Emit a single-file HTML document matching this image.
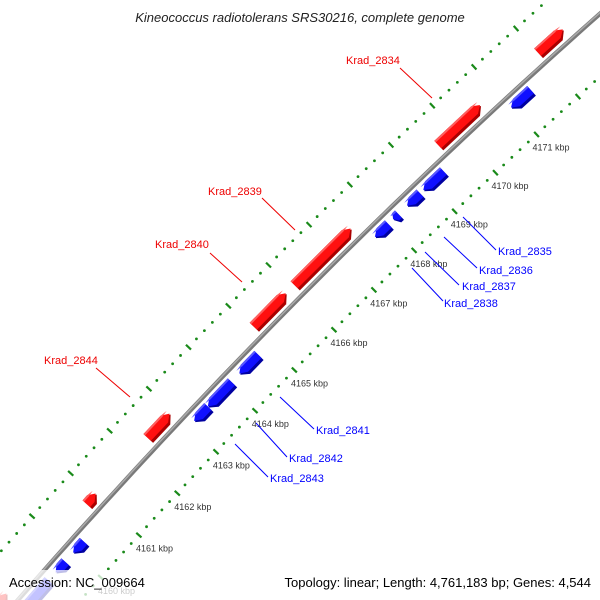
<!DOCTYPE html>
<html><head><meta charset="utf-8"><style>
html,body{margin:0;padding:0;background:#fff;overflow:hidden;width:600px;height:600px}
svg{display:block;font-family:"Liberation Sans","DejaVu Sans",sans-serif}
</style></head><body>
<svg id="chart" width="600" height="600" viewBox="0 0 600 600" xmlns="http://www.w3.org/2000/svg" overflow="hidden">
<rect width="600" height="600" fill="#fff"/>
<g id="ticks"></g>
<g id="axisline"></g>
<g id="genes"></g>
<g font-size="11">
  <g fill="#e00" stroke="none">
    <text x="346" y="64">Krad_2834</text>
    <text x="208" y="195">Krad_2839</text>
    <text x="155" y="248">Krad_2840</text>
    <text x="44" y="364">Krad_2844</text>
  </g>
  <g stroke="#e00" stroke-width="1">
    <line x1="400" y1="68" x2="432" y2="98"/>
    <line x1="262" y1="198" x2="295" y2="230"/>
    <line x1="210" y1="253" x2="242" y2="282"/>
    <line x1="96" y1="368" x2="130" y2="397"/>
  </g>
  <g fill="#00f">
    <text x="498" y="255">Krad_2835</text>
    <text x="479" y="274">Krad_2836</text>
    <text x="462" y="290">Krad_2837</text>
    <text x="444" y="307">Krad_2838</text>
    <text x="316" y="434">Krad_2841</text>
    <text x="289" y="462">Krad_2842</text>
    <text x="270" y="482">Krad_2843</text>
  </g>
  <g stroke="#00f" stroke-width="1">
    <line x1="463" y1="217" x2="496" y2="250"/>
    <line x1="444" y1="237" x2="477" y2="268"/>
    <line x1="425" y1="252" x2="459" y2="285"/>
    <line x1="412" y1="268" x2="443" y2="301"/>
    <line x1="280" y1="397" x2="314" y2="429"/>
    <line x1="256" y1="423" x2="287" y2="457"/>
    <line x1="235" y1="444" x2="268" y2="477"/>
  </g>
</g>
<text x="300" y="22" text-anchor="middle" font-size="13" font-style="italic" fill="#222">Kineococcus radiotolerans SRS30216, complete genome</text>
<rect x="0" y="570" width="600" height="30" fill="#fff" opacity="0.75"/>
<text x="9" y="587" font-size="13" fill="#000">Accession: NC_009664</text>
<text x="591" y="587" text-anchor="end" font-size="13" fill="#000">Topology: linear; Length: 4,761,183 bp; Genes: 4,544</text>
</svg>
<script>
// data (kbp)
const tickKbp = [4160,4161,4162,4163,4164,4165,4166,4167,4168,4169,4170,4171];
const tickLabels = ["4160 kbp","4161 kbp","4162 kbp","4163 kbp","4164 kbp","4165 kbp","4166 kbp","4167 kbp","4168 kbp","4169 kbp","4170 kbp","4171 kbp"];
const dotRange = [4158,4173.4];
const geneStart = [4158.2,4160.79,4162.36,4165.05,4166.07,4169.60,4172.0, 4158.6,4159.54,4160.0,4163.13,4163.48,4164.28,4167.67,4168.12,4168.46,4168.86,4170.99];
const geneEnd   = [4158.7,4161.03,4162.93,4165.86,4167.47,4170.62,4172.6, 4159.35,4159.79,4160.27,4163.48,4164.08,4164.75,4168.0,4168.25,4168.78,4169.35,4171.46];
const geneStrand = [1,1,1,1,1,1,1, -1,-1,-1,-1,-1,-1,-1,-1,-1,-1,-1];

const NS='http://www.w3.org/2000/svg';
function P(k,v){
  const d=k-4160;
  const lx=98+37.85*d+0.15*d*d, ly=591-42.5*d+0.2*d*d;
  let tx=37.85+0.3*d, ty=-42.5+0.4*d; const m=Math.hypot(tx,ty); tx/=m; ty/=m;
  const nx=-ty, ny=tx;
  return [lx+12*tx+(v-54)*nx, ly+12*ty+(v-54)*ny, tx, ty, nx, ny];
}
function mk(tag,attrs,parent){const e=document.createElementNS(NS,tag);for(const a in attrs)e.setAttribute(a,attrs[a]);parent.appendChild(e);return e;}
const pts=a=>a.map(p=>p[0].toFixed(1)+','+p[1].toFixed(1)).join(' ');

const tg=document.getElementById('ticks');
const kMin=dotRange[0], kMax=dotRange[1];
[-45,47].forEach(function(v){
  for(let i=0;i<=Math.round((kMax-kMin)*5);i++){
    const k=kMin+i*0.2;
    const p=P(k,v);
    if(i%5===0){
      const l=mk('line',{x1:p[0]-3.5*p[4],y1:p[1]-3.5*p[5],x2:p[0]+3.5*p[4],y2:p[1]+3.5*p[5],stroke:'#1a8a1a','stroke-width':2.2},tg);
      
      
    }else{
      const c=mk('circle',{cx:p[0],cy:p[1],r:1.4,fill:'#1a8a1a'},tg);
      
      
    }
  }
});
tickKbp.forEach(function(k,i){
  const p=P(k,54); const q=[p[0]-12*p[2],p[1]-12*p[3]];
  const t=mk('text',{x:q[0],y:q[1]+3,'font-size':9,fill:'#333'},tg);
  t.textContent=tickLabels[i];
  
  
});

const ag=document.getElementById('axisline');
const ap=[];for(let k=kMin-1;k<=kMax+1;k+=0.25)ap.push(P(k,0));
mk('polyline',{points:pts(ap),fill:'none',stroke:'#7a7a7a','stroke-width':4.5},ag);
mk('polyline',{points:pts(ap.map(p=>[p[0]-0.8*p[4],p[1]-0.8*p[5]])),fill:'none',stroke:'#aaa','stroke-width':1.5},ag);

const gg=document.getElementById('genes');
function shape(k0,k1,a,b,s){
  const h=Math.min(0.13,(k1-k0)*0.5), c=(a+b)/2;
  if(s>0) return [P(k0,a),P(k1-h,a),P(k1,c),P(k1-h,b),P(k0,b)];
  return [P(k1,a),P(k0+h,a),P(k0,c),P(k0+h,b),P(k1,b)];
}
geneStart.forEach(function(k0,i){
  const k1=geneEnd[i], s=geneStrand[i];
  const a=s>0?-18:5, b=s>0?-5:18;
  const g=mk('g',{},gg);
  
  
  mk('polygon',{points:pts(shape(k0,k1,a,b,s)),fill:s>0?'#a00':'#0000a0'},g);
  mk('polygon',{points:pts(shape(k0,k1,a,b-3,s)),fill:s>0?'#ff1010':'#1010ff'},g);
  mk('polygon',{points:pts(shape(k0,k1,a,a+2,s)),fill:s>0?'#ff6060':'#5a5aff'},g);
});
</script>
</body></html>
